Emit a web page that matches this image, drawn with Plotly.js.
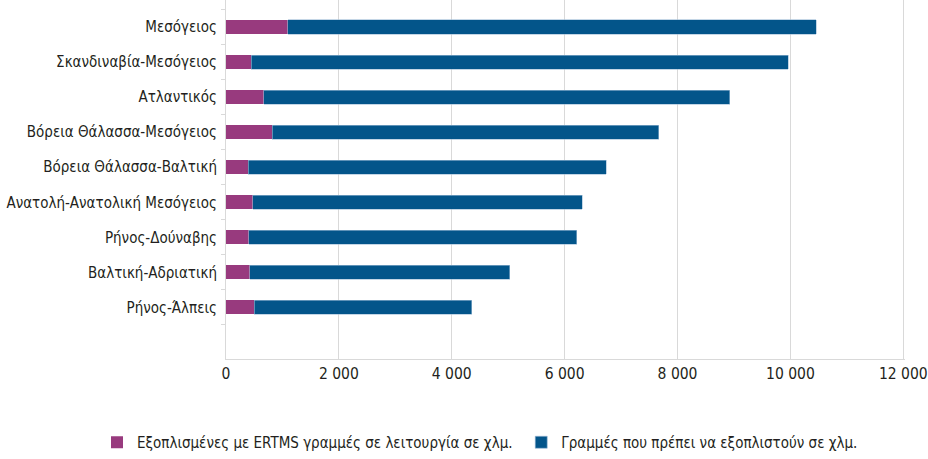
<!DOCTYPE html>
<html>
<head>
<meta charset="utf-8">
<script src="https://cdn.plot.ly/plotly-3.0.1.min.js"></script>
<style>html,body{margin:0;padding:0;background:#fff;}#chart{width:928px;height:459px;}</style>
</head>
<body>
<div id="chart"></div>
<script>
// Categories, bottom to top
var categories = [
  "Ρήνος-Άλπεις",
  "Βαλτική-Αδριατική",
  "Ρήνος-Δούναβης",
  "Ανατολή-Ανατολική Μεσόγειος",
  "Βόρεια Θάλασσα-Βαλτική",
  "Βόρεια Θάλασσα-Μεσόγειος",
  "Ατλαντικός",
  "Σκανδιναβία-Μεσόγειος",
  "Μεσόγειος"
];
var equipped = [496, 425, 407, 472, 390, 815, 673, 443, 1091];
var toEquip  = [3861, 4605, 5803, 5844, 6346, 6854, 8254, 9522, 9364];
var seriesNames = [
  "Εξοπλισμένες με ERTMS γραμμές σε λειτουργία σε χλμ.",
  "Γραμμές που πρέπει να εξοπλιστούν σε χλμ."
];
var xTicks = [0, 2000, 4000, 6000, 8000, 10000, 12000];

var font = "'Liberation Sans Narrow', 'DejaVu Sans Condensed', 'Roboto', sans-serif";

var data = [
  {type: "bar", orientation: "h", y: categories, x: equipped, name: seriesNames[0],
   marker: {color: "#983A7E", line: {width: 0}}, hoverinfo: "x+y", legend: "legend"},
  {type: "bar", orientation: "h", y: categories, x: toEquip, name: seriesNames[1],
   marker: {color: "#03558A", line: {width: 0.6, color: "#9dbbd6"}}, hoverinfo: "x+y", legend: "legend2"}
];

var legendFont = {family: font, size: 15, color: "#231F20"};

var layout = {
  width: 928, height: 459,
  margin: {l: 226, r: 23, t: 0, b: 100},
  barmode: "stack",
  bargap: 0.6,
  separators: ", ",
  paper_bgcolor: "#ffffff",
  plot_bgcolor: "#ffffff",
  font: {family: font, color: "#231F20", size: 15},
  xaxis: {
    range: [0, 12030],
    tickvals: xTicks,
    tickformat: ",d",
    showgrid: true,
    gridcolor: "#d9d9d9",
    gridwidth: 1,
    zeroline: false,
    showline: true,
    linecolor: "#d9d9d9",
    linewidth: 1,
    ticks: "",
    tickfont: {family: font, size: 15.5, color: "#231F20"},
    fixedrange: true
  },
  yaxis: {
    type: "category",
    categoryorder: "array",
    categoryarray: categories,
    range: [-1.47, 8.77],
    showgrid: false,
    zeroline: false,
    showline: true,
    linecolor: "#d9d9d9",
    linewidth: 1,
    ticks: "outside",
    tickson: "boundaries",
    ticklen: 4,
    tickcolor: "#d9d9d9",
    ticklabelstandoff: 5,
    tickfont: {family: font, size: 15, color: "#231F20"},
    fixedrange: true
  },
  legend: {
    orientation: "h",
    x: -0.19, xanchor: "left",
    y: -0.234, yanchor: "middle",
    font: legendFont,
    itemclick: false
  },
  legend2: {
    orientation: "h",
    x: 0.4348, xanchor: "left",
    y: -0.234, yanchor: "middle",
    font: legendFont,
    itemclick: false
  },
  showlegend: true
};

Plotly.newPlot("chart", data, layout, {displayModeBar: false, staticPlot: true});
</script>
</body>
</html>
